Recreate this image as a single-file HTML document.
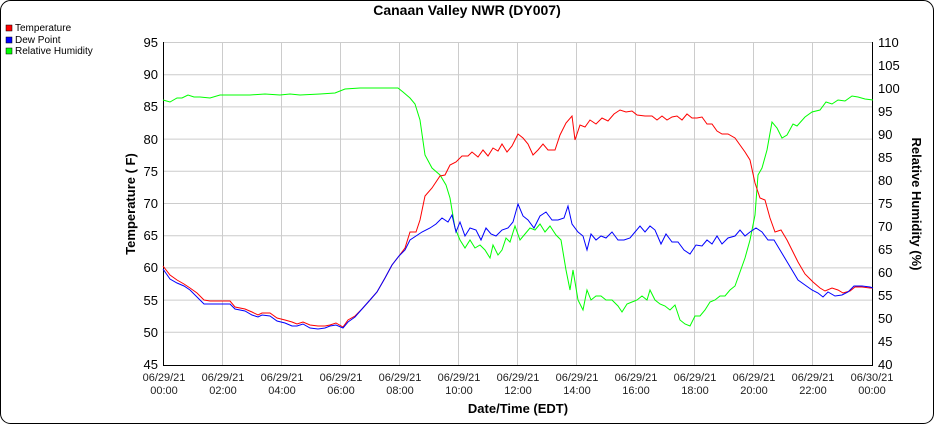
<!DOCTYPE html><html><head><style>body{margin:0;background:#fff}svg{display:block;font-family:"Liberation Sans",sans-serif}</style></head><body>
<svg width="935" height="425" xmlns="http://www.w3.org/2000/svg">
<rect x="0.5" y="0.5" width="933" height="423" rx="10" fill="#fff" stroke="#000"/>
<text x="467" y="15" text-anchor="middle" font-size="14" font-weight="bold">Canaan Valley NWR (DY007)</text>
<g font-size="10"><rect x="6" y="25" width="6" height="6" fill="red" stroke="#000" stroke-width=".5"/><text x="15" y="31">Temperature</text>
<rect x="6" y="37" width="6" height="6" fill="blue" stroke="#000" stroke-width=".5"/><text x="15" y="43">Dew Point</text>
<rect x="6" y="48" width="6" height="6" fill="#0f0" stroke="#000" stroke-width=".5"/><text x="15" y="54">Relative Humidity</text></g>
<g stroke="#ccc" stroke-width="1">
<line x1="163" y1="42.5" x2="872" y2="42.5"/><line x1="163" y1="74.7" x2="872" y2="74.7"/><line x1="163" y1="106.9" x2="872" y2="106.9"/><line x1="163" y1="139.1" x2="872" y2="139.1"/><line x1="163" y1="171.3" x2="872" y2="171.3"/><line x1="163" y1="203.5" x2="872" y2="203.5"/><line x1="163" y1="235.7" x2="872" y2="235.7"/><line x1="163" y1="267.9" x2="872" y2="267.9"/><line x1="163" y1="300.1" x2="872" y2="300.1"/><line x1="163" y1="332.3" x2="872" y2="332.3"/>
<line x1="222.5" y1="42" x2="222.5" y2="365"/><line x1="281.5" y1="42" x2="281.5" y2="365"/><line x1="340.5" y1="42" x2="340.5" y2="365"/><line x1="399.5" y1="42" x2="399.5" y2="365"/><line x1="458.5" y1="42" x2="458.5" y2="365"/><line x1="517.5" y1="42" x2="517.5" y2="365"/><line x1="576.5" y1="42" x2="576.5" y2="365"/><line x1="635.5" y1="42" x2="635.5" y2="365"/><line x1="694.5" y1="42" x2="694.5" y2="365"/><line x1="753.5" y1="42" x2="753.5" y2="365"/><line x1="812.5" y1="42" x2="812.5" y2="365"/>
</g>
<g stroke="#000" fill="none"><polyline points="163.5,42 163.5,365.5 872.5,365.5 872.5,42"/></g>
<g font-size="13" text-anchor="end">
<text x="158" y="47">95</text><text x="158" y="79">90</text><text x="158" y="111">85</text><text x="158" y="144">80</text><text x="158" y="176">75</text><text x="158" y="208">70</text><text x="158" y="240">65</text><text x="158" y="272">60</text><text x="158" y="305">55</text><text x="158" y="337">50</text><text x="158" y="369">45</text></g>
<g font-size="13"><text x="878" y="47">110</text><text x="878" y="70">105</text><text x="878" y="93">100</text><text x="878" y="116">95</text><text x="878" y="139">90</text><text x="878" y="162">85</text><text x="878" y="185">80</text><text x="878" y="208">75</text><text x="878" y="231">70</text><text x="878" y="254">65</text><text x="878" y="277">60</text><text x="878" y="300">55</text><text x="878" y="323">50</text><text x="878" y="346">45</text><text x="878" y="369">40</text></g>
<g font-size="11" text-anchor="middle" fill="#222">
<text x="164" y="381">06/29/21</text><text x="164" y="394">00:00</text>
<text x="223" y="381">06/29/21</text><text x="223" y="394">02:00</text>
<text x="282" y="381">06/29/21</text><text x="282" y="394">04:00</text>
<text x="341" y="381">06/29/21</text><text x="341" y="394">06:00</text>
<text x="400" y="381">06/29/21</text><text x="400" y="394">08:00</text>
<text x="459" y="381">06/29/21</text><text x="459" y="394">10:00</text>
<text x="518" y="381">06/29/21</text><text x="518" y="394">12:00</text>
<text x="577" y="381">06/29/21</text><text x="577" y="394">14:00</text>
<text x="636" y="381">06/29/21</text><text x="636" y="394">16:00</text>
<text x="695" y="381">06/29/21</text><text x="695" y="394">18:00</text>
<text x="754" y="381">06/29/21</text><text x="754" y="394">20:00</text>
<text x="813" y="381">06/29/21</text><text x="813" y="394">22:00</text>
<text x="872" y="381">06/30/21</text><text x="872" y="394">00:00</text></g>
<text x="518" y="413" text-anchor="middle" font-size="13" font-weight="bold">Date/Time (EDT)</text>
<text transform="translate(135,204) rotate(-90)" text-anchor="middle" font-size="13" font-weight="bold">Temperature ( F)</text>
<text transform="translate(912,204) rotate(90)" text-anchor="middle" font-size="13" font-weight="bold">Relative Humidity (%)</text>
<g fill="none" stroke-width="1">
<polyline stroke="#0f0" points="163,100 170,102 177,98 182,98 188,95 194,97 200,97 210,98 220,95 235,95 250,95 265,94 280,95 290,94 300,95 320,94 335,93 345,89 360,88 380,88 398,88 403,92 410,98 415,104 420,120 425,155 432,168 440,175 446,185 450,198 455,228 460,240 465,248 470,240 475,248 480,245 485,250 490,258 493,245 498,255 502,250 506,238 510,242 515,226 520,240 525,234 530,228 535,230 540,224 545,232 550,226 556,235 561,240 566,270 570,290 573,270 578,300 583,310 587,290 591,300 596,296 601,296 606,300 612,300 618,306 622,312 627,304 632,302 637,300 642,296 647,300 650,290 655,300 660,304 665,306 670,310 675,305 680,320 685,324 690,326 695,316 700,316 705,310 710,302 715,300 720,296 725,296 730,290 735,286 740,272 745,258 750,240 755,215 758,175 762,168 767,150 772,122 777,128 782,138 787,135 793,124 797,126 805,117 812,112 820,110 826,102 832,104 838,100 845,101 852,96 858,97 865,99 873,100"/>
<polyline stroke="red" points="163,266 170,275 177,280 184,284 190,288 197,293 204,300 210,301 220,301 230,301 235,307 245,309 252,312 258,315 262,313 270,313 277,318 285,320 292,322 297,324 303,322 310,325 318,326 325,326 330,325 336,323 343,327 348,320 355,316 362,309 370,300 377,292 385,278 392,265 399,256 405,248 410,232 416,232 420,220 425,196 432,188 440,176 445,175 450,165 456,162 462,156 468,156 472,152 478,157 483,150 488,156 493,148 498,151 502,144 507,152 512,146 518,134 523,138 528,144 533,155 538,150 543,144 548,150 555,150 560,135 566,123 572,116 575,140 580,125 585,127 590,120 596,124 602,118 608,121 614,114 620,110 626,112 632,111 637,115 645,116 652,116 657,120 662,116 667,120 672,117 677,116 682,120 687,114 692,118 697,118 702,117 707,124 712,124 717,131 722,134 728,134 735,138 740,145 745,152 750,160 755,183 760,198 765,200 770,218 775,232 781,230 787,240 793,252 798,262 805,274 813,282 820,288 825,291 832,288 838,290 843,293 850,291 855,287 862,287 870,288 873,288"/>
<polyline stroke="blue" points="163,269 170,279 177,283 184,286 190,290 197,297 204,304 210,304 220,304 230,304 235,309 245,311 252,315 258,317 262,315 270,316 277,321 285,323 292,326 297,326 303,324 310,328 318,329 325,328 330,326 336,325 343,328 348,322 355,317 362,309 370,300 377,292 385,278 392,265 399,256 405,250 410,240 416,236 422,232 430,228 436,224 442,218 448,222 452,215 456,232 460,222 465,236 470,228 476,230 481,240 486,228 491,234 496,236 502,230 508,228 513,222 518,204 523,216 528,220 534,228 540,216 546,212 552,220 558,220 564,218 568,206 572,224 578,232 583,236 587,250 591,234 596,240 601,236 606,238 612,232 618,240 624,240 630,238 635,232 640,226 645,232 650,226 655,230 661,244 666,234 672,242 678,242 684,250 690,254 696,245 702,246 707,240 712,244 717,236 722,244 728,238 735,236 740,230 745,236 750,232 756,228 762,232 768,240 774,240 780,250 786,260 792,270 798,280 805,285 812,290 818,293 823,297 828,292 835,296 842,295 848,292 854,286 862,286 870,287 873,288"/>
</g>
</svg></body></html>
